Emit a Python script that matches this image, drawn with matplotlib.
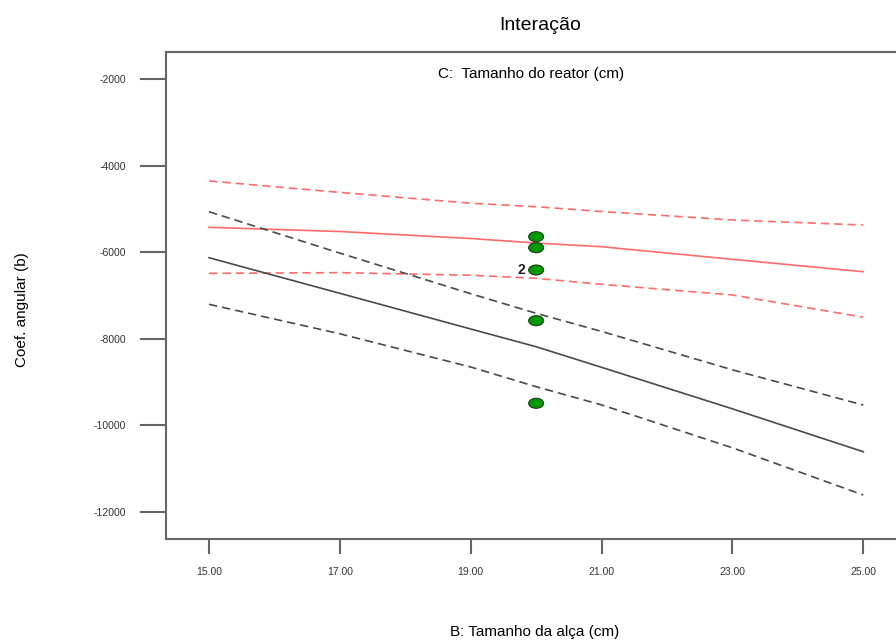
import matplotlib
matplotlib.use("Agg")
import matplotlib.pyplot as plt
from matplotlib.patches import Ellipse

plt.rcParams['font.family'] = ['Liberation Sans', 'DejaVu Sans']
plt.rcParams['axes.unicode_minus'] = False

# B: Tamanho da alca (cm)
b_vals = [15, 17, 19, 20, 21, 23, 25]

# C baixo (vermelho)
red_mid = [-5422, -5519, -5681, -5785, -5871, -6162, -6449]
red_hi = [-4351, -4615, -4865, -4946, -5057, -5253, -5369]
red_lo = [-6486, -6470, -6530, -6601, -6740, -6987, -7500]

# C alto (preto)
blk_mid = [-6125, -6948, -7773, -8183, -8659, -9619, -10611]
blk_hi = [-5061, -6019, -6957, -7410, -7829, -8717, -9531]
blk_lo = [-7202, -7884, -8652, -9107, -9528, -10520, -11611]

# pontos de projeto
pts_x = [20, 20, 20, 20, 20]
pts_y = [-5639, -5894, -6409, -7581, -9491]

xticks = [15, 17, 19, 21, 23, 25]
yticks = [-12000, -10000, -8000, -6000, -4000, -2000]

fig = plt.figure(figsize=(8.96, 6.43), dpi=100)
ax = fig.add_axes([0.1853, 0.1617, 0.8147, 0.7574])

red = '#ff6b6b'
blk = '#4a4a4a'
dash = (0, (5, 3))

ax.plot(b_vals, red_mid, color=red, lw=1.2)
ax.plot(b_vals, red_hi, color=red, lw=1.2, ls=dash)
ax.plot(b_vals, red_lo, color=red, lw=1.2, ls=dash)
ax.plot(b_vals, blk_mid, color=blk, lw=1.2)
ax.plot(b_vals, blk_hi, color=blk, lw=1.2, ls=dash)
ax.plot(b_vals, blk_lo, color=blk, lw=1.2, ls=dash)

# elipses verdes (pontos)
for px, py in zip(pts_x, pts_y):
    ax.add_patch(Ellipse((px, py), 15 / 65.43, 10 / 43.25 * 1000,
                         facecolor='#009900', edgecolor='#1a3a1a',
                         lw=0.8, zorder=5))
ax.text(19.78, pts_y[2], '2', ha='center', va='center', fontsize=10,
        fontweight='bold', color='#222222')

ax.set_xlim(14.343, 25.5)
ax.set_ylim(-12629, -1369)
ax.set_xticks(xticks)
ax.set_xticklabels(['%.2f' % v for v in xticks])
ax.set_yticks(yticks)
ax.tick_params(axis='x', length=11, width=1.5, color='#666666',
               labelsize=7.5, labelcolor='#333333', pad=9)
ax.tick_params(axis='y', length=19, width=1.5, color='#666666',
               labelsize=7.5, labelcolor='#333333', pad=10)
for s in ['left', 'top', 'bottom']:
    ax.spines[s].set_color('#666666')
    ax.spines[s].set_linewidth(1.5)
ax.spines['right'].set_visible(False)

ax.text(0.5, 0.97, 'C:  Tamanho do reator (cm)', transform=ax.transAxes,
        ha='center', va='top', fontsize=11)

fig.text(540 / 896, 1 - 25 / 643, 'Interação', ha='center', va='center',
         fontsize=14)
fig.text(535 / 896, 1 - 632 / 643, 'B: Tamanho da alça (cm)', ha='center',
         va='center', fontsize=11)
fig.text(22 / 896, 1 - 310 / 643, 'Coef. angular (b)', ha='center',
         va='center', rotation=90, fontsize=11)

fig.savefig('out.png', dpi=100)
